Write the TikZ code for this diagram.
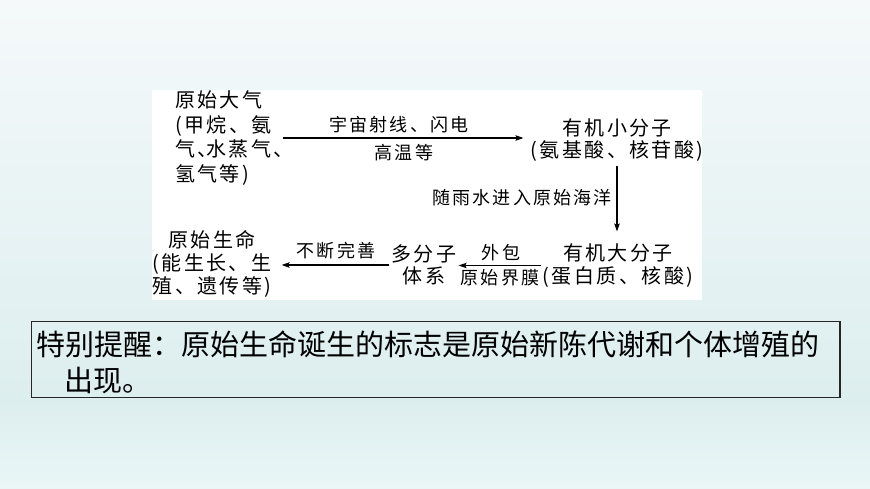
\documentclass[tikz,border=0pt]{standalone}
\usepackage{fontspec}
\newfontfamily\cjk[LetterSpace=12]{Noto Sans CJK SC}
\newfontfamily\cjkplain{Noto Sans CJK SC}
\usetikzlibrary{arrows.meta}
\definecolor{bgtop}{HTML}{F5F9FA}
\definecolor{bgmid}{HTML}{DDEEEF}
\definecolor{bgbot}{HTML}{EAF6F6}
\begin{document}
\begin{tikzpicture}[x=1pt,y=-1pt,
  maintxt/.style={inner sep=0pt, text=black},
  labtxt/.style={inner sep=0pt, text=black, font=\cjk\fontsize{18}{22}\selectfont},
  arr/.style={line width=1.1pt, -{Stealth[length=8pt,width=5.5pt,inset=1.5pt]}}]
\useasboundingbox (0,0) rectangle (870,489);
\shade[top color=bgtop, bottom color=bgmid] (0,0) rectangle (870,400);
\shade[top color=bgmid, bottom color=bgbot] (0,400) rectangle (870,489);
\fill[white] (152,90) rectangle (702,300);

\node[maintxt, align=left, anchor=west, font=\cjk\fontsize{20}{24.5}\selectfont] (atm) at (175,138)
  {原始大气\\(甲烷、氨\\气、\kern-0.55em水蒸气、\kern-0.55em\\氢气等)};
\node[maintxt, align=center, font=\cjk\fontsize{20}{22}\selectfont] (small) at (617,140)
  {有机小分子\\(氨基酸、核苷酸)};
\node[maintxt, align=center, font=\cjk\fontsize{20}{23}\selectfont] (big) at (618,265.5)
  {有机大分子\\(蛋白质、核酸)};
\node[maintxt, align=center, font=\cjk\fontsize{20}{22}\selectfont] (multi) at (424,265)
  {多分子\\体系};
\node[maintxt, align=center, font=\cjk\fontsize{20}{23}\selectfont] (life) at (212,264)
  {原始生命\\(能生长、生\\殖、遗传等)};

\draw[arr, shorten >=7pt] (atm.east) -- (atm.east -| small.west);
\draw[arr, shorten <=4pt, shorten >=12pt] (small.south) -- (small.south |- big.north);
\draw[arr, shorten <=2pt, shorten >=2pt] (big.west) -- (big.west -| multi.east);
\draw[arr, shorten <=2pt, shorten >=10pt] (multi.west) -- (multi.west -| life.east);

\node[labtxt] (l1) at (399,125) {宇宙射线、闪电};
\node[labtxt] (l2) at (404,153) {高温等};
\node[labtxt, anchor=east] (l3) at (612,198) {随雨水进入原始海洋};
\node[labtxt] (l4) at (501,253) {外包};
\node[labtxt] (l5) at (500,278) {原始界膜};
\node[labtxt] (l6) at (336,251) {不断完善};

\draw[line width=1.4pt, draw=black!85] (31.7,321.7) rectangle (840,397.7);
\node[inner sep=0pt, align=left, anchor=west, font=\cjkplain\fontsize{29}{36}\selectfont] (tip) at (36.5,362)
  {特别提醒：原始生命诞生的标志是原始新陈代谢和个体增殖的\\\hspace*{0.97em}出现。};
\end{tikzpicture}
\end{document}
